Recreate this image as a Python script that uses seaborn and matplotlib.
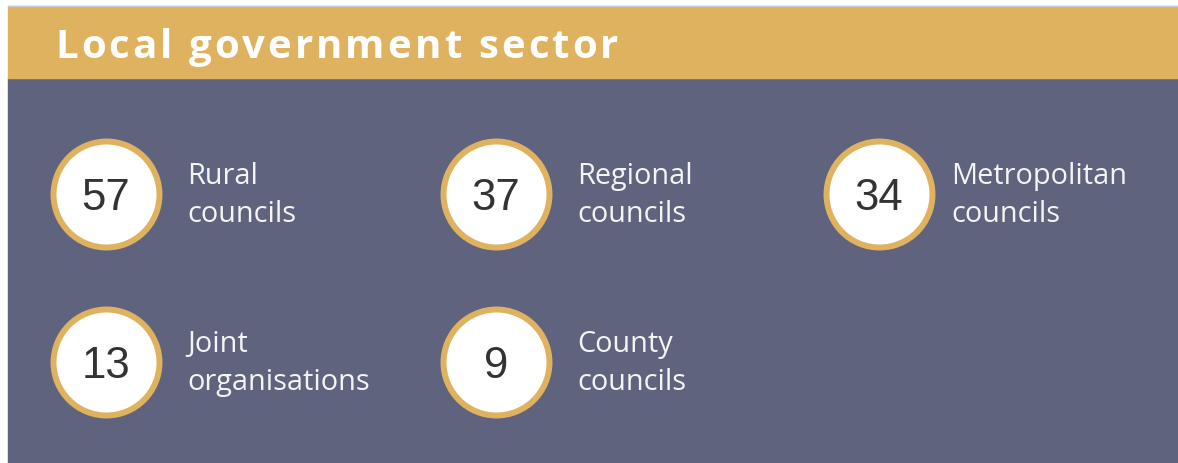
"""Local government sector - count badges"""

import matplotlib
matplotlib.use("Agg")
import matplotlib.pyplot as plt
import matplotlib.patches as mpatches
from matplotlib.font_manager import FontProperties
import pandas as pd
import seaborn as sns

# Data
title = "Local government sector"
counts = [57, 37, 34, 13, 9]
label_top = ["Rural", "Regional", "Metropolitan", "Joint", "County"]
label_bottom = ["councils", "councils", "councils", "organisations", "councils"]

# Layout (pixels, figure is 1178 x 464 at dpi 100)
W, H = 1178, 464
col_x = [106, 496, 879]
label_x = [187, 577, 951]
row_y = [195, 363]
gold = "#DFB260"
purple = "#60637E"

sns.set_theme(style="white")
plt.rcParams["font.family"] = ["Open Sans", "DejaVu Sans"]

df = pd.DataFrame({
    "count": counts,
    "top": label_top,
    "bottom": label_bottom,
})
df["col"] = df.index % 3
df["row"] = df.index // 3
df["cx"] = [col_x[c] for c in df["col"]]
df["cy"] = [row_y[r] for r in df["row"]]
df["lx"] = [label_x[c] for c in df["col"]]

fig = plt.figure(figsize=(W / 100, H / 100), dpi=100, facecolor="white")
ax = fig.add_axes([0, 0, 1, 1])
ax.set_xlim(0, W)
ax.set_ylim(H, 0)
ax.axis("off")

# Background panels (run past the edges so no seam shows)
ax.add_patch(mpatches.Rectangle((8, 79), W, H, color=purple, zorder=0,
                                clip_on=False))
ax.add_patch(mpatches.Rectangle((8, 7), W, 72, color=gold, zorder=0,
                                clip_on=False))
ax.plot([8, W + 5], [6.5, 6.5], color="#C8C8C8", lw=1, zorder=1)

# Badges
sns.scatterplot(data=df, x="cx", y="cy", s=5822, color="white",
                edgecolor=gold, linewidth=4.3, legend=False, ax=ax, zorder=3)

for _, r in df.iterrows():
    ax.text(r["cx"], r["cy"] + 3.5, str(r["count"]), ha="center", va="center",
            fontsize=31.5, color="#333333", family="Liberation Sans", zorder=4)
    ax.text(r["lx"], r["cy"] - 11, r["top"], ha="left", va="baseline",
            fontsize=20.8, color="#F4F4F4", zorder=4)
    ax.text(r["lx"], r["cy"] + 27, r["bottom"], ha="left", va="baseline",
            fontsize=20.8, color="#F4F4F4", zorder=4)

# Title with letter spacing, placed character by character
fig.canvas.draw()
renderer = fig.canvas.get_renderer()
fp = FontProperties(family=["Open Sans", "DejaVu Sans"], weight="bold", size=29)


def text_w(s):
    return renderer.get_text_width_height_descent(s, fp, ismath=False)[0]


x0, x1 = 55, 618
natural = text_w(title)
track = (x1 - x0 - natural) / (len(title) - 1)
ref = text_w("I")
for i, ch in enumerate(title):
    if ch == " ":
        continue
    xi = x0 + (text_w(title[:i] + "I") - ref) + i * track
    ax.text(xi, 58, ch, ha="left", va="baseline", fontproperties=fp,
            color="white", zorder=4)

fig.savefig("out.png", dpi=100, facecolor="white")
